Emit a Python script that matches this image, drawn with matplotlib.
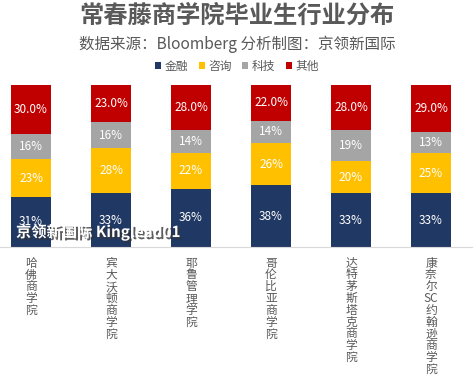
import matplotlib
matplotlib.use("Agg")
import matplotlib.pyplot as plt
import matplotlib.patheffects as pe
import numpy as np

plt.rcParams['font.family'] = ['Noto Sans CJK SC', 'DejaVu Sans']

schools = ["哈佛商学院", "宾大沃顿商学院", "耶鲁管理学院", "哥伦比亚商学院", "达特茅斯塔克商学院", "康奈尔SC约翰逊商学院"]
series_names = ["金融", "咨询", "科技", "其他"]
finance = [31, 33, 36, 38, 33, 33]
consult = [23, 28, 22, 26, 20, 25]
tech = [16, 16, 14, 14, 19, 13]
other = [30, 23, 28, 22, 28, 29]
colors = ["#203864", "#FFC000", "#A5A5A5", "#C00000"]

title = "常春藤商学院毕业生行业分布"
subtitle = "数据来源：Bloomberg 分析制图：京领新国际"
watermark = "京领新国际 Kinglead01"

def vertical_label(s):
    out = []
    i = 0
    while i < len(s):
        if s[i:i+2] == "SC":
            out.append("SC"); i += 2
        else:
            out.append(s[i]); i += 1
    return "\n".join(out)

fig = plt.figure(figsize=(4.74, 3.77), dpi=100)
ax = fig.add_axes([0, 0.345, 472/474, 0.4297])

x = np.arange(len(schools))
data = [finance, consult, tech, other]
bottom = np.zeros(len(schools))
for k, (vals, c) in enumerate(zip(data, colors)):
    vals = np.array(vals, dtype=float)
    ax.bar(x, vals, 0.5, bottom=bottom, color=c, label=series_names[k])
    for xi, b, v in zip(x, bottom, vals):
        txt = f"{v:.1f}%" if k == 3 else f"{v:.0f}%"
        ax.text(xi, b + v / 2, txt, ha='center', va='center', color='white', fontsize=8.5)
    bottom += vals

ax.set_xlim(-0.3875, 5.5125)
ax.set_ylim(0, 100)
ax.set_yticks([])
for s in ['left', 'right', 'top']:
    ax.spines[s].set_visible(False)
ax.spines['bottom'].set_color('#D9D9D9')
ax.set_xticks(x)
ax.set_xticklabels([vertical_label(s) for s in schools], color='#595959', fontsize=8.5,
                   linespacing=0.88, va='top')
ax.tick_params(axis='x', length=0, pad=7)

fig.text(0.5, 1 - 16/377, title, ha='center', va='center', fontsize=17.5,
         fontweight='bold', color='#595959')
fig.text(0.5, 1 - 44/377, subtitle, ha='center', va='center', fontsize=11.2, color='#595959')

leg = fig.legend(loc='center', bbox_to_anchor=(0.5, 1 - 66/377), ncol=4, frameon=False,
                 fontsize=8.5, handlelength=0.5, handleheight=0.5, handletextpad=0.3,
                 columnspacing=0.9)
for t in leg.get_texts():
    t.set_color('#595959')

fig.text(16/474, 1 - 232/377, watermark, ha='left', va='center', fontsize=11,
         fontweight='bold', color='white',
         path_effects=[pe.withSimplePatchShadow(offset=(1.5, -1.5), shadow_rgbFace='#333333', alpha=0.8)])

fig.savefig("out.png", dpi=100)
